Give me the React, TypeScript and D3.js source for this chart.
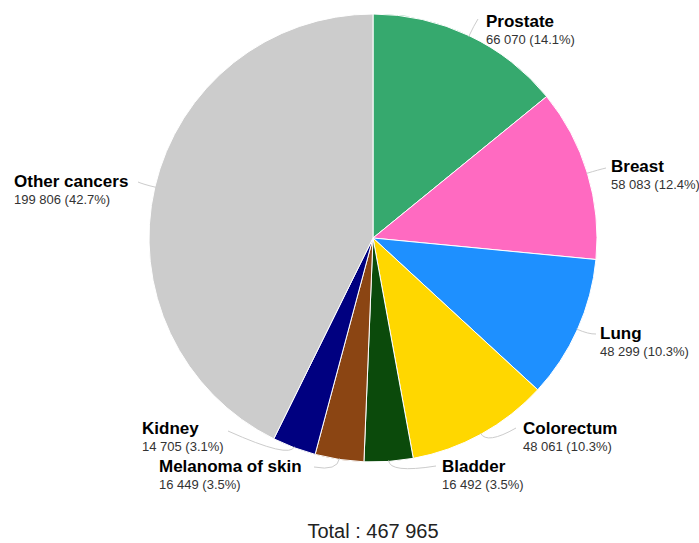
import { useEffect, useRef } from 'react';
import * as d3 from 'd3';

const categories = ['Prostate', 'Breast', 'Lung', 'Colorectum', 'Bladder', 'Melanoma of skin', 'Kidney', 'Other cancers'];
const cases = [66070, 58083, 48299, 48061, 16492, 16449, 14705, 199806];
const colors = ['#36a96e', '#ff6ac1', '#1e90ff', '#ffd700', '#0b4a0b', '#8b4513', '#000080', '#cccccc'];

// label anchor (start of name text) and where the connector ends, per slice
const labelPos: [number, number][] = [
    [486, 27], [611, 172], [600, 339], [523, 434], [442, 472], [159, 472], [142, 434], [14, 187]
];
const lineEnd: [number, number][] = [
    [478, 19], [606, 168], [596, 334], [516, 428], [436, 466], [314, 467], [228, 431], [138, 182]
];

const W = 699;
const H = 543;

const App = () => {
    const svgRef = useRef<SVGSVGElement>(null);

    useEffect(() => {
        if (!svgRef.current) return;
        const svg = d3.select(svgRef.current);
        svg.selectAll('*').remove();

        const cx = 373;
        const cy = 238;
        const r = 224;
        const total = d3.sum(cases);
        const fmt = d3.formatLocale({ decimal: '.', thousands: ' ', grouping: [3], currency: ['', ''] }).format(',d');

        const data = categories.map((name, i) => ({ name, value: cases[i], color: colors[i], i }));

        const pie = d3.pie<typeof data[number]>().value(d => d.value).sort(null);
        const arcs = pie(data);

        const arc = d3.arc<d3.PieArcDatum<typeof data[number]>>().innerRadius(0).outerRadius(r);
        const edge = d3.arc<d3.PieArcDatum<typeof data[number]>>().innerRadius(r - 1).outerRadius(r - 1);
        const outer = d3.arc<d3.PieArcDatum<typeof data[number]>>().innerRadius(r + 12).outerRadius(r + 12);

        const g = svg.append('g').attr('transform', `translate(${cx},${cy})`);

        g.selectAll('path.slice')
            .data(arcs)
            .enter().append('path')
            .attr('class', 'slice')
            .attr('d', arc)
            .attr('fill', d => d.data.color)
            .attr('stroke', '#ffffff')
            .attr('stroke-width', 1);

        // connectors
        arcs.forEach(a => {
            const [ex, ey] = edge.centroid(a);
            const [ox, oy] = outer.centroid(a);
            const [lx, ly] = lineEnd[a.data.i];
            const p = d3.path();
            p.moveTo(ex, ey);
            p.quadraticCurveTo(ox, oy, lx - cx, ly - cy);
            g.append('path')
                .attr('d', p.toString())
                .attr('fill', 'none')
                .attr('stroke', '#cccccc')
                .attr('stroke-width', 1);
        });

        // labels
        arcs.forEach(a => {
            const [lx, ly] = labelPos[a.data.i];
            svg.append('text')
                .attr('x', lx)
                .attr('y', ly)
                .attr('font-family', '"Liberation Sans", Arial, sans-serif')
                .attr('font-size', 17)
                .attr('font-weight', 'bold')
                .attr('fill', '#000000')
                .text(a.data.name);
            svg.append('text')
                .attr('x', lx)
                .attr('y', ly + 17)
                .attr('font-family', '"Liberation Sans", Arial, sans-serif')
                .attr('font-size', 13)
                .attr('fill', '#333333')
                .text(`${fmt(a.data.value)} (${(a.data.value / total * 100).toFixed(1)}%)`);
        });

        svg.append('text')
            .attr('x', cx)
            .attr('y', 538)
            .attr('text-anchor', 'middle')
            .attr('font-family', '"Liberation Sans", Arial, sans-serif')
            .attr('font-size', 20)
            .attr('fill', '#222222')
            .text(`Total : ${fmt(total)}`);
    }, []);

    return (
        <svg ref={svgRef} width={W} height={H} style={{ position: 'absolute', left: 0, top: 0, background: '#ffffff' }} />
    );
};

export default App;
